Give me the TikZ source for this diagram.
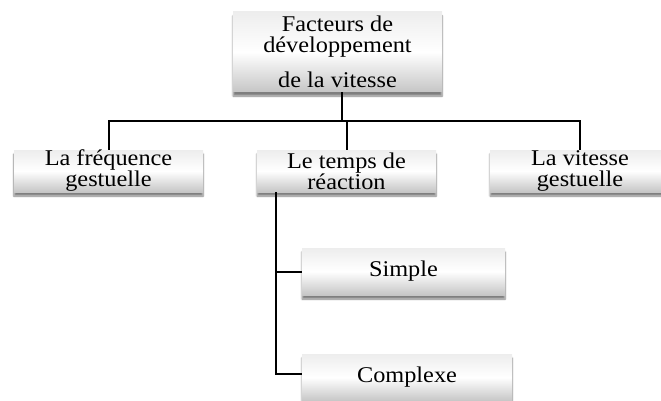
\documentclass[tikz,border=0pt]{standalone}
\usepackage{fontspec}
\setmainfont{Liberation Serif}[FakeStretch=1.08]
\usetikzlibrary{shadows.blur}
\tikzset{
  box/.style={inner sep=0pt, align=center, top color=gray!14, bottom color=gray!45, middle color=white,
    blur shadow={shadow xshift=0pt, shadow yshift=-4pt, shadow blur steps=6, shadow opacity=50},
    font=\fontsize{22.5}{21}\selectfont},
  conn/.style={draw=black, line width=2pt}
}
\begin{document}
\begin{tikzpicture}[x=1pt,y=-1pt]
\useasboundingbox (0,0) rectangle (661,401);
\node[box, minimum width=209pt, minimum height=80pt] (top) at (337.5,52) {Facteurs de\\développement\\[14pt]de la vitesse};
\node[box, minimum width=189pt, minimum height=42pt] (b1) at (108.5,171) {La fréquence\\gestuelle};
\node[box, minimum width=179pt, minimum height=42pt] (b2) at (346.5,171) {Le temps de\\réaction};
\node[box, minimum width=180pt, minimum height=42pt] (b3) at (580,171) {La vitesse\\gestuelle};
\node[box, minimum width=203pt, minimum height=47pt] (simple) at (403.5,271.5) {Simple};
\node[box, minimum width=210pt, minimum height=47pt] (complexe) at (407,377.5) {Complexe};
\coordinate (bus) at (342,121);
\coordinate (spine) at (276,0);
\draw[conn] ([xshift=4.5pt]top.south) -- ([xshift=4.5pt]top.south |- bus);
\draw[conn] (b1.north) |- (bus) -| (b3.north);
\draw[conn] (b2.north) -- (b2.north |- bus);
\draw[conn] (b2.south -| spine) |- (simple.west);
\draw[conn] (b2.south -| spine) |- ([yshift=4pt]complexe.west);
\end{tikzpicture}
\end{document}
